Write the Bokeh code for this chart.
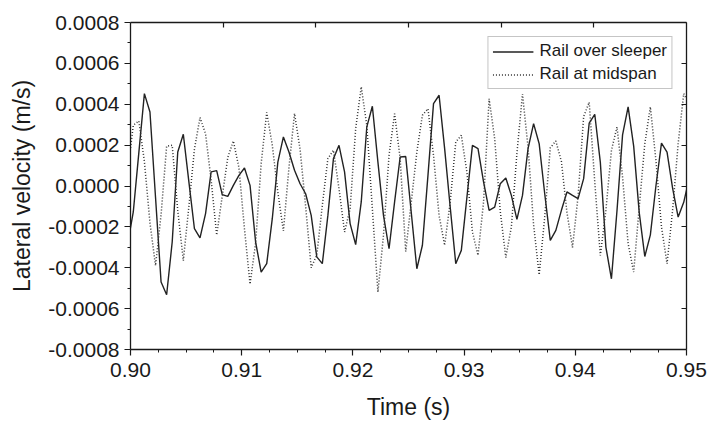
import numpy as np
from bokeh.plotting import figure
from bokeh.models import (Range1d, FixedTicker, PrintfTickFormatter, LinearAxis,
                          CustomJSTickFormatter)
from bokeh.embed import file_html
from bokeh.resources import INLINE

# ---------------- data ----------------
# samples every 0.0005 s, starting half a step before 0.90 s
t_start = 0.89975
t_step = 0.0005

# lateral velocity, in units of 1e-4 m/s
sleeper_e4 = [
    -2.80, -1.27, 1.63, 4.52, 3.62, -0.55, -4.70, -5.32, -2.74, 1.66,
    2.53, 0.20, -2.09, -2.54, -1.35, 0.69, 0.75, -0.42, -0.51, 0.03,
    0.52, 0.88, 0.03, -2.74, -4.21, -3.80, -1.60, 1.17, 2.40, 1.66,
    0.77, 0.11, -0.38, -1.44, -3.47, -3.80, -1.44, 1.34, 1.99, 0.69,
    -1.84, -2.87, -0.78, 2.89, 3.90, 1.17, -1.44, -3.07, -0.78, 1.42,
    1.44, -1.31, -4.05, -2.90, 0.52, 4.03, 4.44, 1.83, -1.03, -3.80,
    -3.15, -0.57, 1.99, 1.83, 0.20, -1.19, -1.03, 0.11, 0.39, -0.46,
    -1.63, -0.46, 1.83, 3.05, 2.07, -0.38, -2.66, -2.17, -1.19, -0.29,
    -0.46, -0.62, 0.36, 3.08, 3.51, 1.17, -2.99, -4.54, -1.20, 2.50,
    3.87, 1.95, -1.30, -3.45, -2.39, 0.00, 2.10, 1.66, -0.10, -1.52,
    -0.80, 0.40,
]
midspan_e4 = [
    0.70, 2.97, 3.18, 1.20, -1.80, -3.90, -1.40, 1.95, 1.99, -1.20,
    -3.65, -1.00, 1.80, 3.35, 2.55, 0.30, -2.40, -0.50, 1.40, 2.20,
    0.90, -2.10, -4.80, -2.80, 1.10, 3.60, 2.00, -0.30, -2.20, 0.90,
    3.55, 1.80, -1.00, -4.00, -3.39, -0.95, 1.34, 1.75, -0.13, -2.25,
    -1.11, 2.81, 4.85, 2.97, -1.11, -5.19, -2.41, 1.50, 3.54, 1.34,
    -3.20, -0.78, 1.66, 3.46, 3.78, 1.50, -1.44, -2.90, -0.78, 2.15,
    2.48, 0.69, -2.25, -3.39, -0.78, 4.27, 2.32, -1.23, -3.50, -2.00,
    1.60, 4.50, 1.90, -1.90, -4.35, -1.52, 1.87, 2.20, 1.20, -1.30,
    -3.00, -0.50, 3.40, 4.10, 0.20, -3.40, -1.20, 1.75, 2.89, 0.44,
    -2.82, -4.21, -1.03, 2.07, 3.87, 1.26, -2.00, -3.80, -1.19, 2.07,
    4.52, 4.00,
]

x_ticks = [0.90, 0.91, 0.92, 0.93, 0.94, 0.95]
y_ticks = [-0.0008, -0.0006, -0.0004, -0.0002, 0.0, 0.0002, 0.0004, 0.0006, 0.0008]
top_ticks = [0.908333, 0.916667, 0.925, 0.933333, 0.941667]

series_names = ["Rail over sleeper", "Rail at midspan"]
x_label = "Time (s)"
y_label = "Lateral velocity (m/s)"

# ---------------- build ----------------
n = len(sleeper_e4)
time = [round(t_start + t_step * k, 6) for k in range(n)]
sleeper = [v * 1e-4 for v in sleeper_e4]
midspan = [v * 1e-4 for v in midspan_e4]

x_minor = [round(0.90 + 0.0025 * i, 6) for i in range(21)]
x_minor = [v for v in x_minor if all(abs(v - t) > 1e-9 for t in x_ticks)]
y_minor = [round(-0.0008 + 0.0001 * i, 6) for i in range(17)]
y_minor = [v for v in y_minor if all(abs(v - t) > 1e-9 for t in y_ticks)]

FONT = "Liberation Sans"
INK = "#1a1a1a"

p = figure(width=709, height=426, output_backend="svg", toolbar_location=None,
           x_range=Range1d(0.90, 0.95), y_range=Range1d(-0.0008, 0.0008),
           min_border_left=130, min_border_right=23, min_border_top=22,
           min_border_bottom=77)
p.background_fill_color = "white"
p.border_fill_color = "white"
p.outline_line_color = None
p.xgrid.visible = False
p.ygrid.visible = False

p.line(time, sleeper, line_color="#222222", line_width=1.4,
       legend_label=series_names[0])
p.line(time, midspan, line_color="#333333", line_width=1.5, line_dash="1 2",
       legend_label=series_names[1])

# bottom axis
xa = p.xaxis[0]
xa.ticker = FixedTicker(ticks=x_ticks, minor_ticks=x_minor)
xa.formatter = PrintfTickFormatter(format="%.2f")
xa.axis_label = x_label
# left axis
ya = p.yaxis[0]
ya.ticker = FixedTicker(ticks=y_ticks, minor_ticks=y_minor)
ya.formatter = PrintfTickFormatter(format="%.4f")
ya.axis_label = y_label

for ax in (xa, ya):
    ax.axis_line_color = INK
    ax.axis_line_width = 1.3
    ax.major_tick_line_color = INK
    ax.minor_tick_line_color = INK
    ax.major_tick_line_width = 1.2
    ax.minor_tick_line_width = 1.0
    ax.major_tick_in = 0
    ax.major_tick_out = 6
    ax.minor_tick_in = 0
    ax.minor_tick_out = 3
    ax.major_label_text_font = FONT
    ax.major_label_text_font_size = "21px"
    ax.major_label_text_color = INK
    ax.axis_label_text_font = FONT
    ax.axis_label_text_font_size = "23px"
    ax.axis_label_text_font_style = "normal"
    ax.axis_label_text_color = INK
xa.major_label_standoff = 7
xa.axis_label_standoff = 14
ya.major_label_standoff = 5
ya.axis_label_standoff = 10

blank = CustomJSTickFormatter(code="return ''")
top = LinearAxis(ticker=FixedTicker(ticks=top_ticks, minor_ticks=[]), formatter=blank)
right = LinearAxis(ticker=FixedTicker(ticks=y_ticks, minor_ticks=[]), formatter=blank)
for ax in (top, right):
    ax.axis_line_color = INK
    ax.axis_line_width = 1.3
    ax.major_tick_line_color = INK
    ax.major_tick_line_width = 1.2
    ax.major_tick_in = 5
    ax.major_tick_out = 0
    ax.minor_tick_in = 0
    ax.minor_tick_out = 0
    ax.major_label_text_font_size = "1px"
    ax.major_label_standoff = 0
p.add_layout(top, "above")
p.add_layout(right, "right")

lg = p.legend[0]
lg.location = "top_right"
lg.margin = 14
lg.padding = 4
lg.spacing = 3
lg.glyph_width = 41
lg.glyph_height = 19
lg.label_height = 19
lg.label_standoff = 6
lg.label_text_font = FONT
lg.label_text_font_size = "17px"
lg.label_text_color = INK
lg.border_line_color = "#8c8c8c"
lg.border_line_width = 1
lg.background_fill_alpha = 1.0

open("out.html", "w").write(file_html(p, INLINE))
